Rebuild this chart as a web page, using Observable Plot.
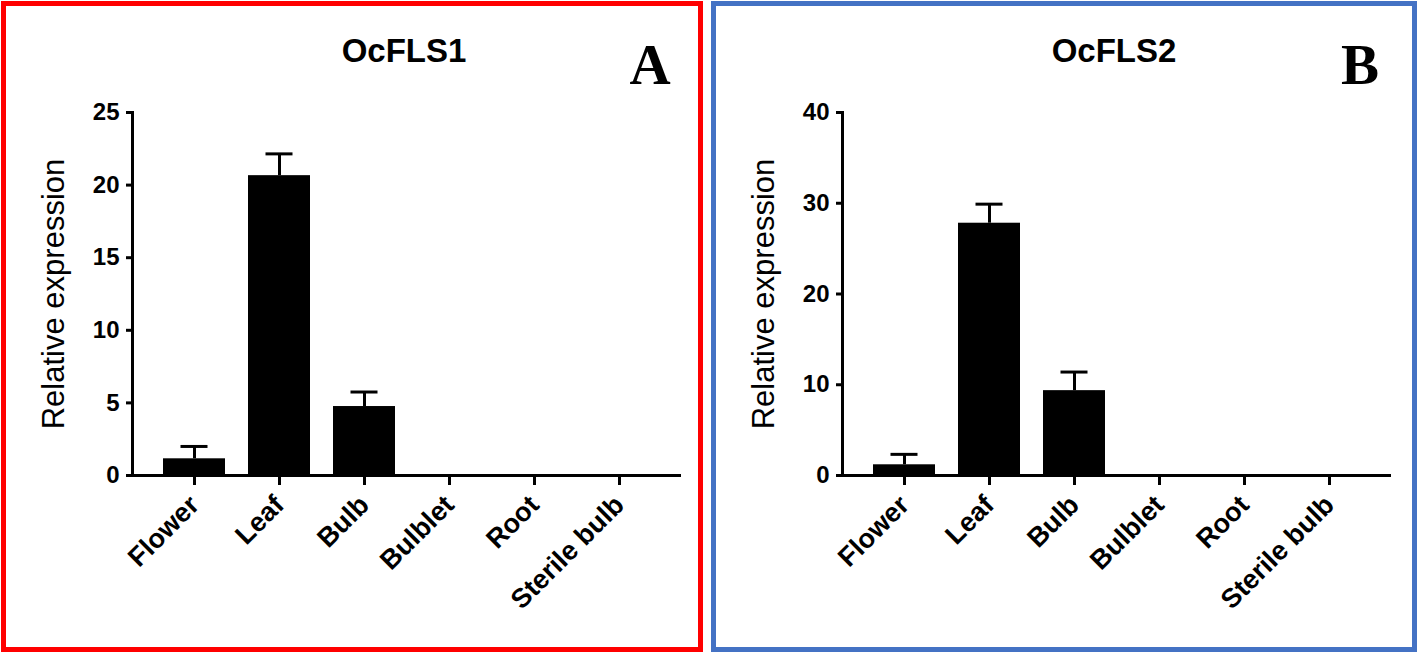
<!DOCTYPE html>
<html>
<head>
<meta charset="utf-8">
<script src="https://cdn.jsdelivr.net/npm/d3@7"></script>
<script src="https://cdn.jsdelivr.net/npm/@observablehq/plot@0.6"></script>
<style>
  html, body { margin: 0; padding: 0; background: #fff; }
  #page { position: relative; width: 1418px; height: 655px; background: #fff; overflow: hidden; }
  .panel { position: absolute; top: 0; width: 705px; height: 655px; }
  .border { position: absolute; box-sizing: border-box; border-style: solid; border-width: 5px; }
  .title { position: absolute; font-family: "Liberation Sans", Arial, sans-serif; font-weight: bold; font-size: 33px; color: #000; transform: translateX(-50%); white-space: nowrap; line-height: 1; }
  .letter { position: absolute; font-family: "Liberation Serif", "Times New Roman", serif; font-weight: bold; font-size: 57px; color: #000; transform: translateX(-50%); line-height: 1; }
  .ylab { position: absolute; font-family: "Liberation Sans", Arial, sans-serif; font-size: 31px; color: #000; white-space: nowrap; transform: translate(-50%, -50%) rotate(-90deg); line-height: 1; }
  .panel svg { position: absolute; left: 0; top: 0; }
</style>
</head>
<body>
<div id="page"></div>
<script>
// ---- data ----
const tissues = ["Flower", "Leaf", "Bulb", "Bulblet", "Root", "Sterile bulb"];
const fls1Mean = [1.15, 20.65, 4.75, 0, 0, 0];
const fls1Err  = [0.85, 1.5, 1.0, 0, 0, 0];
const fls2Mean = [1.18, 27.8, 9.35, 0, 0, 0];
const fls2Err  = [1.15, 2.1, 2.05, 0, 0, 0];
const fls1Ticks = [0, 5, 10, 15, 20, 25];
const fls2Ticks = [0, 10, 20, 30, 40];
const panelTitles = ["OcFLS1", "OcFLS2"];
const panelLetters = ["A", "B"];
const yTitle = "Relative expression";

const page = document.getElementById("page");

function makePanel(idx, means, errs, yTicks, borderColor, left) {
  const rows = tissues.map((t, i) => ({tissue: t, mean: means[i], err: errs[i], top: means[i] + errs[i]}));
  const errRows = rows.filter(d => d.err > 0);
  const yMax = yTicks[yTicks.length - 1];

  const panel = document.createElement("div");
  panel.className = "panel";
  panel.style.left = left + "px";

  const chart = Plot.plot({
    width: 705,
    height: 655,
    marginLeft: 132,
    marginRight: 24,
    marginTop: 112,
    marginBottom: 180,
    style: {fontFamily: "Liberation Sans, Arial, sans-serif", fontWeight: "bold", color: "#000", background: "transparent", overflow: "visible"},
    x: {domain: tissues, paddingInner: 0.267, paddingOuter: 0.326, label: null},
    y: {domain: [0, yMax], label: null},
    marks: [
      Plot.barY(rows, {x: "tissue", y: "mean", fill: "#000"}),
      Plot.ruleX(errRows, {x: "tissue", y1: "mean", y2: "top", stroke: "#000", strokeWidth: 3}),
      Plot.tickY(errRows, {x: "tissue", y: "top", stroke: "#000", strokeWidth: 3, insetLeft: 17.5, insetRight: 17.5}),
      Plot.ruleY([0], {stroke: "#000", strokeWidth: 3}),
      Plot.frame({anchor: "left", stroke: "#000", strokeWidth: 3}),
      Plot.axisY({ticks: yTicks, tickSize: 6, tickPadding: 7, strokeWidth: 3, fontSize: 24, fontWeight: "bold", label: null}),
      Plot.axisX({tickSize: 10, tickPadding: 15, strokeWidth: 3, fontSize: 27, fontWeight: "bold", tickRotate: -45, label: null})
    ]
  });
  panel.appendChild(chart);

  const border = document.createElement("div");
  border.className = "border";
  border.style.borderColor = borderColor;
  border.style.left = "1px";
  border.style.top = "1px";
  border.style.width = (idx === 0 ? 702 : 706) + "px";
  border.style.height = "651px";
  panel.appendChild(border);

  const title = document.createElement("div");
  title.className = "title";
  title.textContent = panelTitles[idx];
  title.style.left = "404px";
  title.style.top = "34px";
  panel.appendChild(title);

  const letter = document.createElement("div");
  letter.className = "letter";
  letter.textContent = panelLetters[idx];
  letter.style.left = "650px";
  letter.style.top = "36px";
  panel.appendChild(letter);

  const ylab = document.createElement("div");
  ylab.className = "ylab";
  ylab.textContent = yTitle;
  ylab.style.left = "53px";
  ylab.style.top = "294px";
  panel.appendChild(ylab);

  page.appendChild(panel);
}

makePanel(0, fls1Mean, fls1Err, fls1Ticks, "#ff0000", 0);
makePanel(1, fls2Mean, fls2Err, fls2Ticks, "#4472c4", 710);
</script>
</body>
</html>
